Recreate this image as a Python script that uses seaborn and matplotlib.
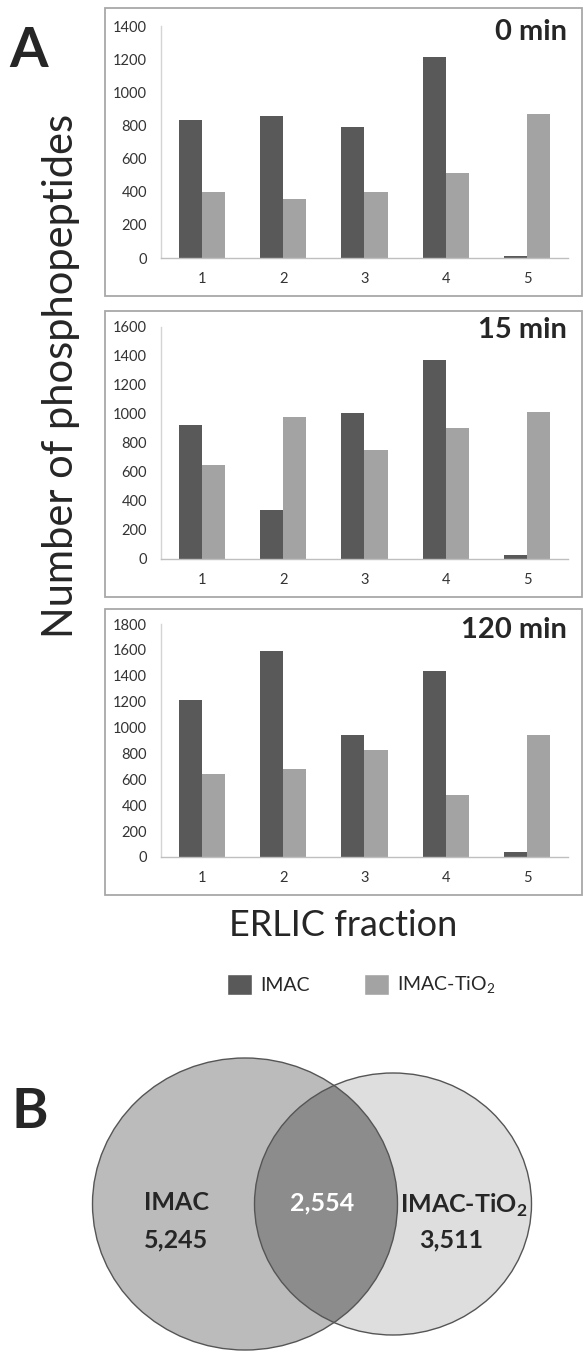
import matplotlib
matplotlib.use('Agg')
import matplotlib.pyplot as plt
import pandas as pd
import seaborn as sns
from matplotlib.patches import Ellipse, Rectangle, Patch

# Data
fractions = ['1', '2', '3', '4', '5']
methods = ['IMAC', 'IMAC-TiO2']
panel_titles = ['0 min', '15 min', '120 min']

imac_0min = [830, 855, 790, 1215, 10]
tio2_0min = [400, 355, 400, 510, 870]
imac_15min = [925, 335, 1010, 1375, 25]
tio2_15min = [650, 980, 750, 905, 1015]
imac_120min = [1215, 1590, 945, 1440, 40]
tio2_120min = [640, 680, 830, 480, 945]
y_max = [1400, 1600, 1800]

venn_names = ['IMAC', r'IMAC-TiO$_\mathbf{2}$']
venn_counts = [5245, 2554, 3511]  # IMAC only, shared, IMAC-TiO2 only

sns.set_style('white')
plt.rcParams['font.family'] = ['Lato', 'DejaVu Sans']
plt.rcParams['mathtext.fontset'] = 'custom'
plt.rcParams['mathtext.rm'] = 'Lato'
plt.rcParams['mathtext.bf'] = 'Lato:bold'

W, H = 584, 1353
colors = ['#595959', '#A3A3A3']


def fig_rect(l, t, r, b):
    return [l / W, 1 - b / H, (r - l) / W, (b - t) / H]


fig = plt.figure(figsize=(W / 100, H / 100), dpi=100)

panels = [(imac_0min, tio2_0min), (imac_15min, tio2_15min), (imac_120min, tio2_120min)]
ax_boxes = [(161, 26, 568, 258), (161, 327, 568, 559), (161, 624, 568, 857)]
frames = [(105, 8, 582, 296), (105, 311, 582, 597), (105, 609, 582, 895)]

for i, (imac, tio2) in enumerate(panels):
    df = pd.DataFrame({
        'fraction': fractions * 2,
        'count': imac + tio2,
        'method': [methods[0]] * 5 + [methods[1]] * 5,
    })
    ax = fig.add_axes(fig_rect(*ax_boxes[i]))
    sns.barplot(data=df, x='fraction', y='count', hue='method', order=fractions,
                hue_order=methods, palette=colors, saturation=1, width=0.57,
                gap=0, linewidth=0, errorbar=None, legend=False, ax=ax)
    ax.set_xlim(-0.5, 4.5)
    ax.set_ylim(0, y_max[i])
    ax.set_yticks(range(0, y_max[i] + 1, 200))
    ax.set_xlabel('')
    ax.set_ylabel('')
    for s in ['top', 'right']:
        ax.spines[s].set_visible(False)
    ax.spines['left'].set_color('#D4D4D4')
    ax.spines['bottom'].set_color('#BFBFBF')
    ax.spines['left'].set_linewidth(1)
    ax.spines['bottom'].set_linewidth(1)
    tick_len = 0 if i == 0 else 3
    ax.tick_params(axis='y', length=tick_len, color='#BFBFBF', pad=10 - tick_len,
                   labelsize=10.5, labelcolor='#333333')
    ax.tick_params(axis='x', length=0, pad=10, labelsize=10.5, labelcolor='#333333')
    if i > 0:
        ax.set_xticks([-0.5, 0.5, 1.5, 2.5, 3.5, 4.5], minor=True)
        ax.tick_params(axis='x', which='minor', length=4, color='#BFBFBF')
    ax.patch.set_alpha(0)

    l, t, r, b = frames[i]
    fig.add_artist(Rectangle((l / W, 1 - b / H), (r - l) / W, (b - t) / H,
                             transform=fig.transFigure, fill=False,
                             ec='#A8A8A8', lw=1.3))
    ty = [32, 330, 630][i]
    fig.text(567 / W, 1 - ty / H, panel_titles[i], ha='right', va='center',
             fontsize=21, fontweight='bold')

fig.text(29 / W, 1 - 51 / H, 'A', ha='center', va='center', fontsize=40, fontweight='bold')
fig.text(61 / W, 1 - 376 / H, 'Number of phosphopeptides', rotation=90,
         ha='center', va='center', fontsize=30)
fig.text(343 / W, 1 - 925 / H, 'ERLIC fraction', ha='center', va='center', fontsize=26)

handles = [Patch(facecolor=colors[0]), Patch(facecolor=colors[1])]
fig.legend(handles=handles, labels=['IMAC', 'IMAC-TiO$_2$'], loc='center',
           bbox_to_anchor=(361 / W, 1 - 985 / H), ncol=2, frameon=False,
           fontsize=14, handlelength=1.3, handleheight=1.3, handletextpad=0.4,
           columnspacing=2.8)

# Venn diagram (B)
axv = fig.add_axes(fig_rect(0, 1000, W, H))
axv.set_xlim(0, W)
axv.set_ylim(H, 1000)
axv.axis('off')
left = Ellipse((245, 1204), 305, 292, facecolor='#BBBBBB', edgecolor='none')
right = Ellipse((393, 1204), 277, 262, facecolor='#DEDEDE', edgecolor='none')
axv.add_patch(left)
axv.add_patch(right)
inter = Ellipse((245, 1204), 305, 292, facecolor='#8C8C8C', edgecolor='none')
axv.add_patch(inter)
inter.set_clip_path(right)
for cx, w, h in [(245, 305, 292), (393, 277, 262)]:
    axv.add_patch(Ellipse((cx, 1204), w, h, fill=False, edgecolor='#555555', lw=1))

axv.text(176, 1202, venn_names[0], ha='center', va='center', fontsize=18, fontweight='bold')
axv.text(176, 1240, f'{venn_counts[0]:,}', ha='center', va='center', fontsize=18, fontweight='bold')
axv.text(322, 1203, f'{venn_counts[1]:,}', ha='center', va='center', fontsize=18,
         fontweight='bold', color='white')
axv.text(464, 1205, venn_names[1], ha='center', va='center', fontsize=18, fontweight='bold')
axv.text(451, 1240, f'{venn_counts[2]:,}', ha='center', va='center', fontsize=18, fontweight='bold')

fig.text(30 / W, 1 - 1112 / H, 'B', ha='center', va='center', fontsize=40, fontweight='bold')

fig.savefig('out.png', dpi=100)
